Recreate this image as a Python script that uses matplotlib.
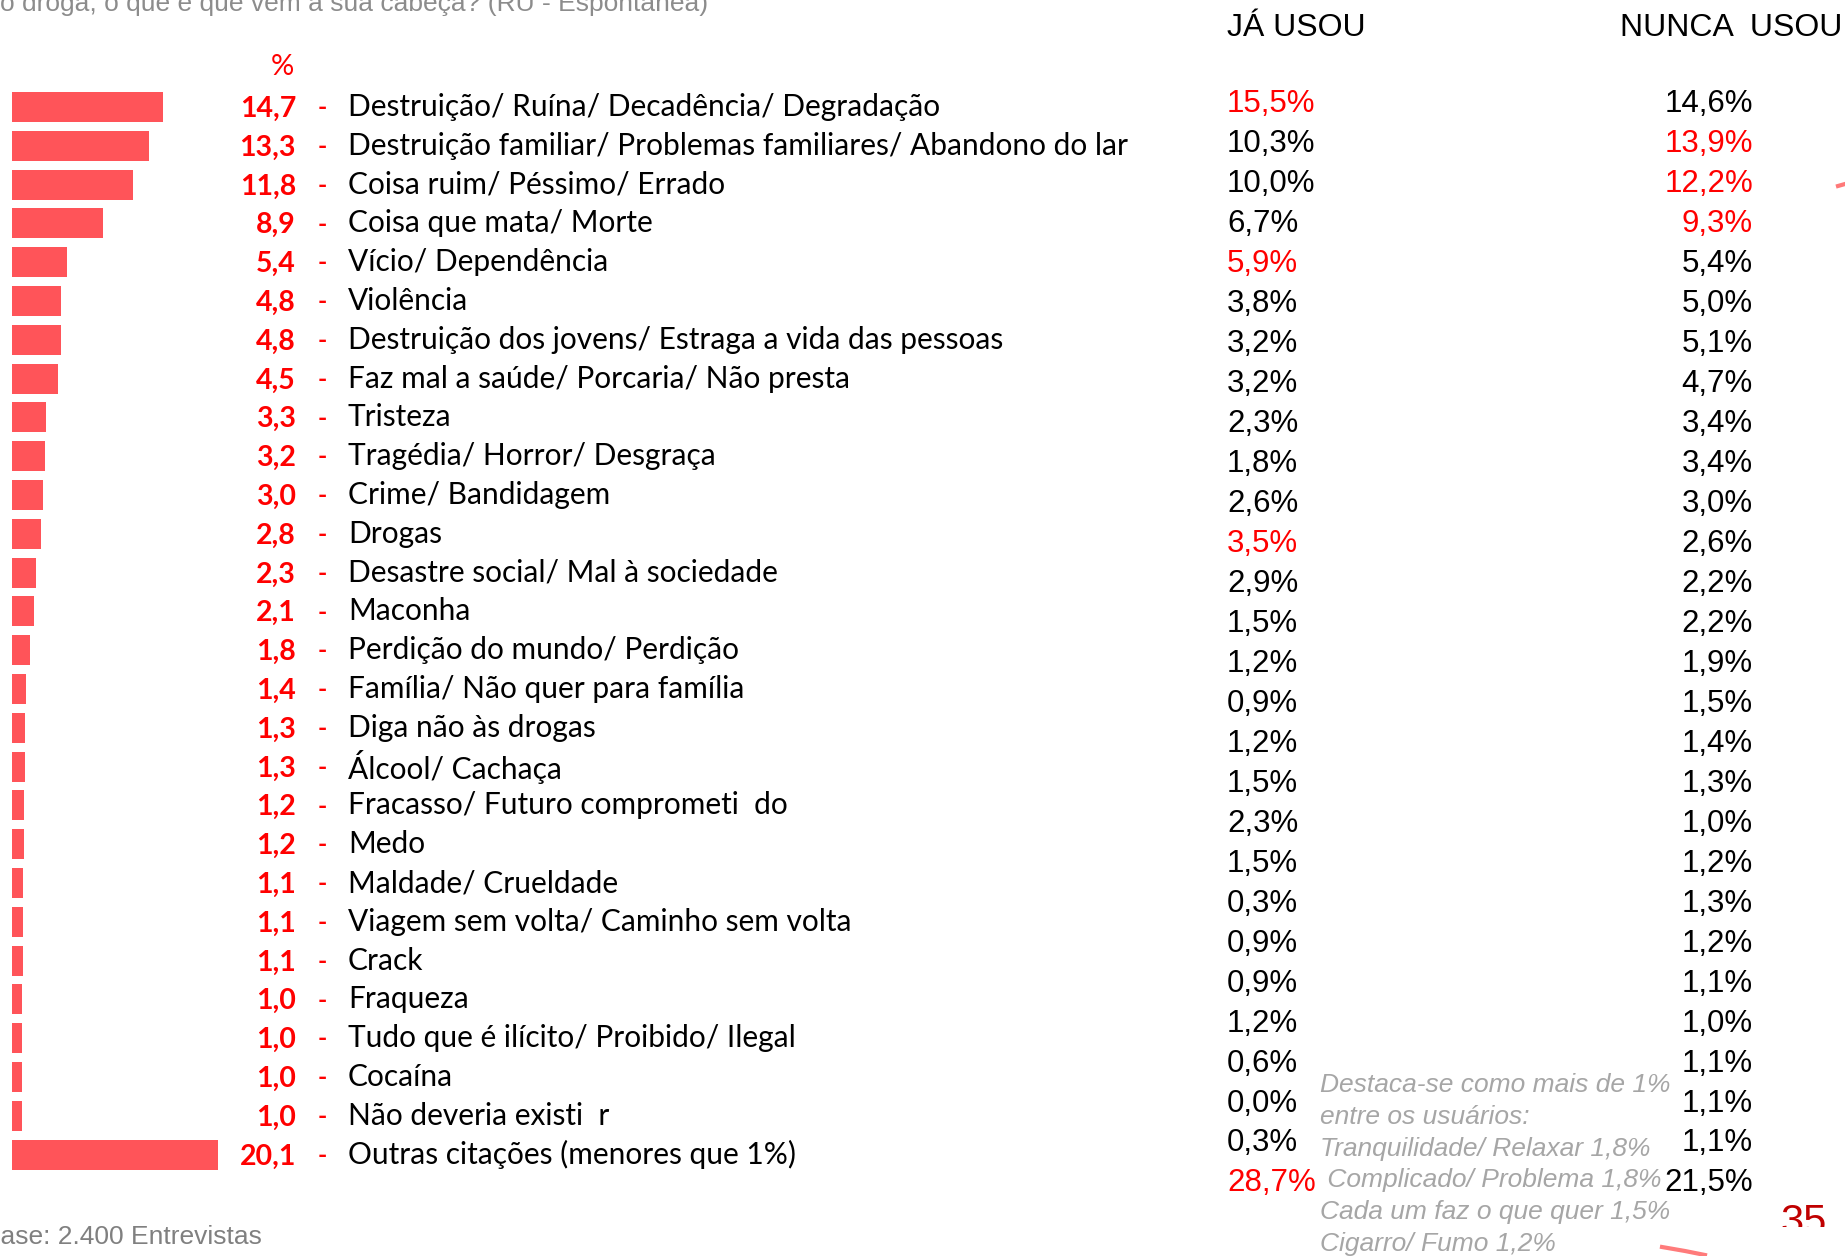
import matplotlib.pyplot as plt
import matplotlib.transforms as mtransforms
from matplotlib.patches import Rectangle

# dados
categorias = [
    'Destruição/ Ruína/ Decadência/ Degradação',
    'Destruição familiar/ Problemas familiares/ Abandono do lar',
    'Coisa ruim/ Péssimo/ Errado',
    'Coisa que mata/ Morte',
    'Vício/ Dependência',
    'Violência',
    'Destruição dos jovens/ Estraga a vida das pessoas',
    'Faz mal a saúde/ Porcaria/ Não presta',
    'Tristeza',
    'Tragédia/ Horror/ Desgraça',
    'Crime/ Bandidagem',
    'Drogas',
    'Desastre social/ Mal à sociedade',
    'Maconha',
    'Perdição do mundo/ Perdição',
    'Família/ Não quer para família',
    'Diga não às drogas',
    'Álcool/ Cachaça',
    'Fracasso/ Futuro comprometi  do',
    'Medo',
    'Maldade/ Crueldade',
    'Viagem sem volta/ Caminho sem volta',
    'Crack',
    'Fraqueza',
    'Tudo que é ilícito/ Proibido/ Ilegal',
    'Cocaína',
    'Não deveria existi  r',
    'Outras citações (menores que 1%)',
]
total = [14.7, 13.3, 11.8, 8.9, 5.4, 4.8, 4.8, 4.5, 3.3, 3.2, 3.0, 2.8, 2.3, 2.1,
         1.8, 1.4, 1.3, 1.3, 1.2, 1.2, 1.1, 1.1, 1.1, 1.0, 1.0, 1.0, 1.0, 20.1]
ja_usou = [15.5, 10.3, 10.0, 6.7, 5.9, 3.8, 3.2, 3.2, 2.3, 1.8, 2.6, 3.5, 2.9, 1.5,
           1.2, 0.9, 1.2, 1.5, 2.3, 1.5, 0.3, 0.9, 0.9, 1.2, 0.6, 0.0, 0.3, 28.7]
nunca_usou = [14.6, 13.9, 12.2, 9.3, 5.4, 5.0, 5.1, 4.7, 3.4, 3.4, 3.0, 2.6, 2.2, 2.2,
              1.9, 1.5, 1.4, 1.3, 1.0, 1.2, 1.3, 1.2, 1.1, 1.0, 1.1, 1.1, 1.1, 21.5]
# linhas destacadas em vermelho
destaque_ja = [0, 4, 11, 27]
destaque_nunca = [1, 2, 3]

notas = [
    'Destaca-se como mais de 1%',
    'entre os usuários:',
    'Tranquilidade/ Relaxar 1,8%',
    ' Complicado/ Problema 1,8%',
    'Cada um faz o que quer 1,5%',
    'Cigarro/ Fumo 1,2%',
]

W, H = 1845, 1256
ARIAL = 'Liberation Sans'
CALIBRI = 'Lato'

def fmt(v):
    return f'{v:.1f}'.replace('.', ',')

fig = plt.figure(figsize=(W / 100, H / 100), dpi=100)

# canvas em pixels
canvas = fig.add_axes([0, 0, 1, 1])
canvas.set_xlim(0, W)
canvas.set_ylim(H, 0)
canvas.axis('off')

n = len(categorias)

# barras
row0, step = 107, 38.8
top = row0 - step / 2
bot = row0 + (n - 1) * step + step / 2
px_per_unit = 10.27
ax = fig.add_axes([12 / W, 1 - bot / H, 28 * px_per_unit / W, (bot - top) / H])
ax.barh(range(n), total, height=0.77, color='#ff5459')
ax.set_xlim(0, 28)
ax.set_ylim(n - 0.5, -0.5)
ax.axis('off')

tr = mtransforms.blended_transform_factory(canvas.transData, ax.transData)
for i, (cat, v) in enumerate(zip(categorias, total)):
    ax.text(296, i + 0.05, fmt(v), transform=tr, ha='right', va='center',
            color='red', fontsize=20.5, fontweight='bold', family=CALIBRI)
    ax.text(322, i + 0.02, '-', transform=tr, ha='center', va='center',
            color='red', fontsize=18, fontweight='bold', family=CALIBRI)
    ax.text(348, i, cat, transform=tr, ha='left', va='center',
            color='black', fontsize=21.5, family=CALIBRI)

canvas.text(282, 67, '%', ha='center', va='center', color='red',
            fontsize=21, family=CALIBRI)

# tabela já usou / nunca usou
trow0, tstep = 104.5, 39.96
ttop = trow0 - tstep / 2
tbot = trow0 + (n - 1) * tstep + tstep / 2
tab = fig.add_axes([0, 1 - tbot / H, 1, (tbot - ttop) / H])
tab.set_xlim(0, W)
tab.set_ylim(n - 0.5, -0.5)
tab.axis('off')
for i in range(n):
    tab.text(1227, i, fmt(ja_usou[i]) + '%', ha='left', va='center',
             color='red' if i in destaque_ja else 'black', fontsize=22.5, family=ARIAL)
    tab.text(1753, i, fmt(nunca_usou[i]) + '%', ha='right', va='center',
             color='red' if i in destaque_nunca else 'black', fontsize=22.5, family=ARIAL)

canvas.text(1227, 28, 'JÁ USOU', ha='left', va='center', fontsize=23, family=ARIAL)
canvas.text(1620, 28, 'NUNCA  USOU', ha='left', va='center', fontsize=23, family=ARIAL)

# título cortado e base
canvas.text(0, 11, 'o droga, o que é que vem à sua cabeça? (RU - Espontânea)',
            ha='left', va='baseline', color='#8c8c8c', fontsize=19, family=ARIAL)
canvas.text(-17, 1237, 'Base: 2.400 Entrevistas', ha='left', va='center',
            color='#808080', fontsize=19, family=ARIAL)

# nota em itálico
for k, linha in enumerate(notas):
    canvas.text(1320, 1085 + k * 31.8, linha, ha='left', va='center', color='#a6a6a6',
                fontsize=19, style='italic', family=ARIAL)

# número da página (cortado embaixo) e detalhes do slide
pg = canvas.text(1780, 1203, '35', ha='left', va='top', color='#c00000',
                 fontsize=30, family=ARIAL)
clip = Rectangle((1700, 1150), 145, 77, transform=canvas.transData)
pg.set_clip_on(True)
pg.set_clip_path(clip)
canvas.plot([1662, 1685, 1705], [1247, 1251, 1255], color='#ff5a5a', lw=3, alpha=0.8)
canvas.plot([1838, 1845], [186, 184], color='#ff4040', lw=3, alpha=0.7)

plt.savefig('out.png', dpi=100)
